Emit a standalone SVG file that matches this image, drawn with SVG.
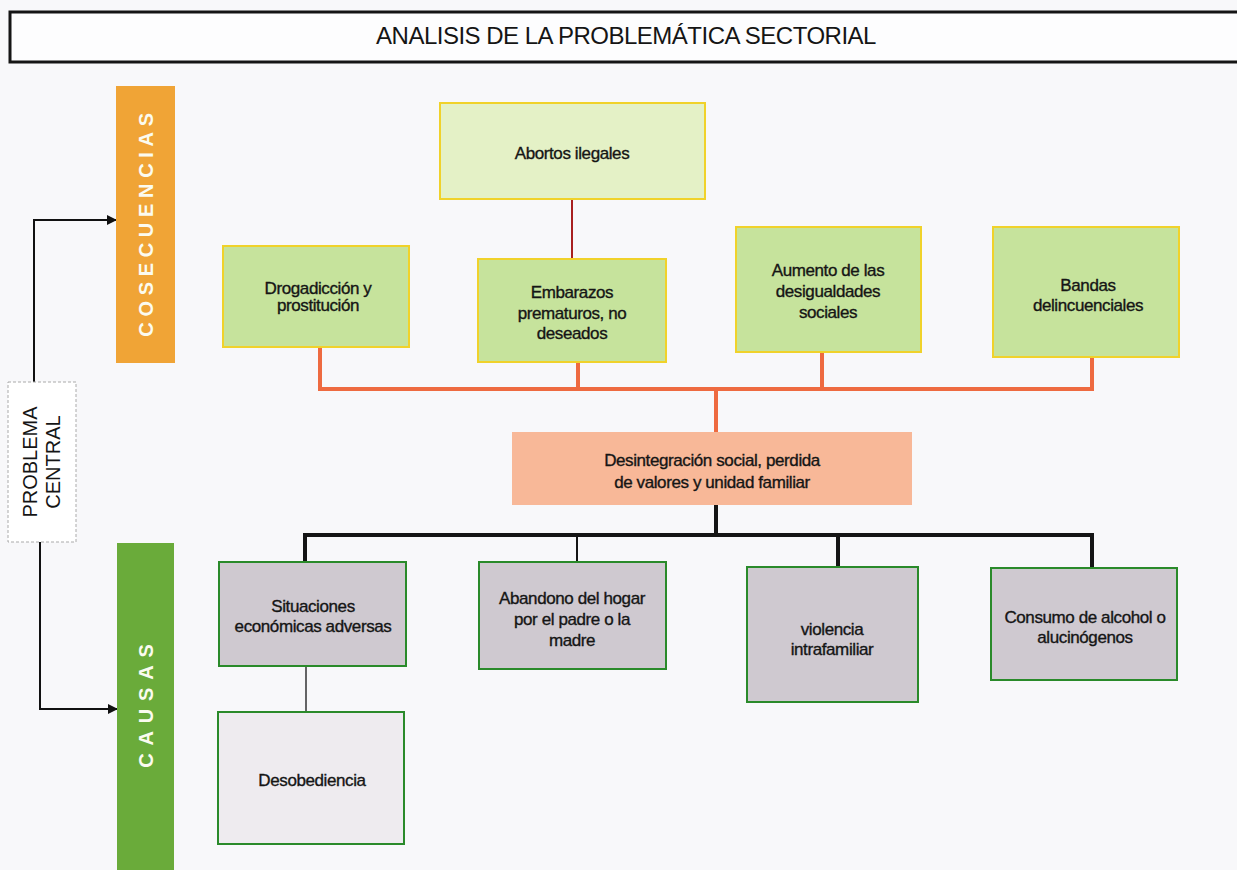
<svg xmlns="http://www.w3.org/2000/svg" width="1237" height="870" viewBox="0 0 1237 870">
<style>
.t{font-family:"Liberation Sans",Arial,sans-serif;font-size:17px;fill:#151515;stroke:#151515;stroke-width:0.35;text-anchor:middle;letter-spacing:-0.4px}
.c1{fill:#c6e39c;stroke:#f0d22a;stroke-width:2}
.c2{fill:#e4f1c6;stroke:#f0d22a;stroke-width:2}
.k1{fill:#cfc9d0;stroke:#2a8a2a;stroke-width:2}
.k2{fill:#eeebef;stroke:#2a8a2a;stroke-width:2}
.side{font-family:"Liberation Sans",Arial,sans-serif;font-size:20px;fill:#fbfbf0;font-weight:bold;text-anchor:middle}
</style>
<defs>
<marker id="ah" markerWidth="10" markerHeight="10" refX="9" refY="5" orient="auto" markerUnits="userSpaceOnUse">
<path d="M0,0 L10,5 L0,10 z" fill="#111"/>
</marker>
</defs>
<rect width="1237" height="870" fill="#f8f8fa"/>
<g id="title">
<rect x="10" y="12" width="1235" height="50" fill="#fdfdfe" stroke="#151515" stroke-width="3"/>
<text x="626" y="44" font-family="Liberation Sans,Arial,sans-serif" font-size="24" fill="#151515" text-anchor="middle" letter-spacing="-0.5">ANALISIS DE LA PROBLEMÁTICA SECTORIAL</text>
</g>
<g id="connectors" fill="none">
<path d="M34,382 V220 H116" stroke="#111" stroke-width="2" marker-end="url(#ah)"/>
<path d="M40,542 V709 H117" stroke="#111" stroke-width="2" marker-end="url(#ah)"/>
<path d="M572,199 V259" stroke="#a82020" stroke-width="2"/>
<path d="M320,347 V389 H1092 V357 M578,362 V389 M822,352 V389 M716,389 V432" stroke="#ee6a40" stroke-width="4"/>
<path d="M716,505 V535 M305,562 V535 H1092 V568 M838,535 V567" stroke="#151515" stroke-width="4"/>
<path d="M577,535 V562" stroke="#151515" stroke-width="2"/>
<path d="M306,666 V712" stroke="#333" stroke-width="1.5"/>
</g>
<g id="cosecuencias">
<rect x="116" y="86" width="59" height="277" fill="#f0a436"/>
<text class="side" letter-spacing="5.7" transform="translate(153,222) rotate(-90)">COSECUENCIAS</text>
</g>
<g id="causas">
<rect x="117" y="543" width="57" height="330" fill="#6aab3a"/>
<text class="side" letter-spacing="7.8" transform="translate(153,702) rotate(-90)">CAUSAS</text>
</g>
<g id="problema">
<rect x="8" y="382" width="68" height="160" fill="#fff" stroke="#aaa" stroke-width="1" stroke-dasharray="3,2"/>
<text transform="translate(42,462) rotate(-90)" font-family="Liberation Sans,Arial,sans-serif" font-size="20" fill="#151515" text-anchor="middle"><tspan x="0" y="-5">PROBLEMA</tspan><tspan x="0" y="18">CENTRAL</tspan></text>
</g>
<g id="abortos">
<rect class="c2" x="440" y="103" width="265" height="96"/>
<text class="t" x="572" y="159">Abortos ilegales</text>
</g>
<g id="drogadiccion">
<rect class="c1" x="223" y="246" width="186" height="101"/>
<text class="t" x="318" y="294">Drogadicción y</text>
<text class="t" x="318" y="311">prostitución</text>
</g>
<g id="embarazos">
<rect class="c1" x="478" y="259" width="188" height="103"/>
<text class="t" x="572" y="298">Embarazos</text>
<text class="t" x="572" y="319">prematuros, no</text>
<text class="t" x="572" y="339">deseados</text>
</g>
<g id="aumento">
<rect class="c1" x="736" y="227" width="185" height="125"/>
<text class="t" x="828" y="276">Aumento de las</text>
<text class="t" x="828" y="297">desigualdades</text>
<text class="t" x="828" y="318">sociales</text>
</g>
<g id="bandas">
<rect class="c1" x="993" y="227" width="186" height="130"/>
<text class="t" x="1088" y="291">Bandas</text>
<text class="t" x="1088" y="311">delincuenciales</text>
</g>
<g id="desintegracion">
<rect x="512" y="432" width="400" height="73" fill="#f8b898"/>
<text class="t" x="712" y="466">Desintegración social, perdida</text>
<text class="t" x="712" y="488">de valores y unidad familiar</text>
</g>
<g id="situaciones">
<rect class="k1" x="219" y="562" width="187" height="104"/>
<text class="t" x="313" y="612">Situaciones</text>
<text class="t" x="313" y="632">económicas adversas</text>
</g>
<g id="abandono">
<rect class="k1" x="479" y="562" width="187" height="107"/>
<text class="t" x="572" y="604">Abandono del hogar</text>
<text class="t" x="572" y="625">por el padre o la</text>
<text class="t" x="572" y="646">madre</text>
</g>
<g id="violencia">
<rect class="k1" x="747" y="567" width="171" height="135"/>
<text class="t" x="832" y="635">violencia</text>
<text class="t" x="832" y="655">intrafamiliar</text>
</g>
<g id="consumo">
<rect class="k1" x="991" y="568" width="186" height="112"/>
<text class="t" x="1085" y="623">Consumo de alcohol o</text>
<text class="t" x="1085" y="643">alucinógenos</text>
</g>
<g id="desobediencia">
<rect class="k2" x="218" y="712" width="186" height="132"/>
<text class="t" x="312" y="786">Desobediencia</text>
</g>
</svg>
